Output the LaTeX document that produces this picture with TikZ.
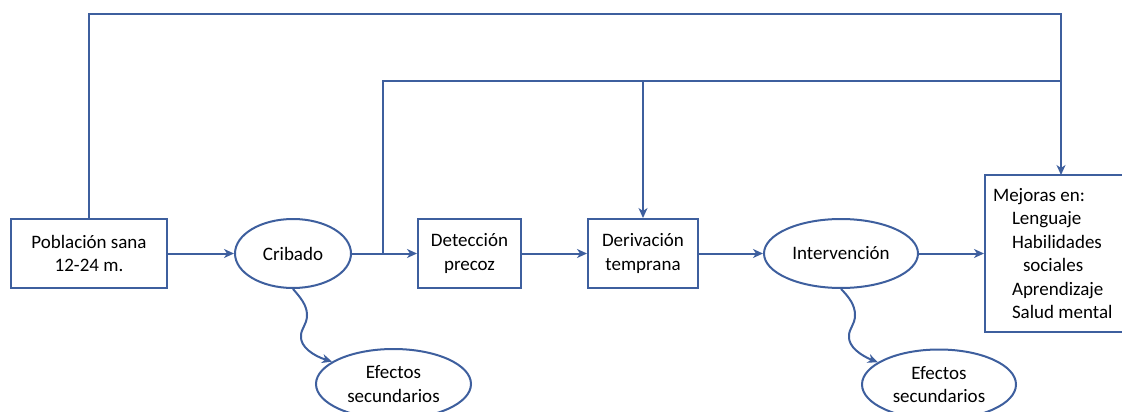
\documentclass[tikz,border=0pt]{standalone}
\usepackage{fontspec}
\setmainfont{Carlito}
\usetikzlibrary{arrows.meta,shapes.geometric}
\definecolor{linecol}{RGB}{62,95,158}
\begin{document}
\begin{tikzpicture}[x=1pt,y=-1pt,
  every node/.style={font=\fontsize{19}{23.4}\selectfont, text=black},
  box/.style={draw=linecol, line width=2pt, rectangle, inner sep=0pt, align=center, minimum height=69pt},
  oval/.style={draw=linecol, line width=2pt, ellipse, inner sep=0pt, align=center},
  conn/.style={draw=linecol, line width=2pt},
  arr/.style={conn, -{Stealth[length=10pt,width=9pt,inset=3pt]}}
]
\path[use as bounding box] (0,0) rectangle (1122,412);

\node[box, minimum width=156pt] (pob) at (89,253.5) {Población sana\\12-24 m.};
\node[oval, minimum width=116pt, minimum height=69pt] (cri) at (293,253.5) {Cribado};
\node[box, minimum width=103pt] (det) at (469.5,253.5) {Detección\\precoz};
\node[box, minimum width=110pt] (der) at (643,253.5) {Derivación\\temprana};
\node[oval, minimum width=154pt, minimum height=69pt] (int) at (841,253.5) {Intervención};
\node[box, align=flush left, text width=123pt, inner xsep=8pt, minimum height=157pt] (mej) at (1054.5,253.5)
  {Mejoras en:\\\hspace*{19pt}Lenguaje\\\hspace*{19pt}Habilidades\\\hspace*{30pt}sociales\\\hspace*{19pt}Aprendizaje\\\hspace*{19pt}Salud mental};
\node[oval, minimum width=155pt, minimum height=70pt] (ef1) at (393.5,384) {Efectos\\secundarios};
\node[oval, minimum width=154pt, minimum height=70pt] (ef2) at (939,384.5) {Efectos\\secundarios};

\coordinate (j1) at (383,253.5);
\coordinate (t1) at (89,14);
\coordinate (t2) at (1061,14);
\coordinate (m1) at (383,80.7);
\coordinate (m2) at (643,80.7);
\coordinate (m3) at (1061,80.7);
\coordinate (mtop) at (1061,175);

\draw[arr] (pob.east) -- (cri.west);
\draw[arr] (cri.east) -- (det.west);
\draw[arr] (det.east) -- (der.west);
\draw[arr] (der.east) -- (int.west);
\draw[arr] (int.east) -- (int.east -| mej.west);

\draw[arr] (pob.north) -- (t1) -- (t2) -- (mtop);
\draw[conn] (j1) -- (m1) -- (m3);
\draw[arr] (m2) -- (der.north);

\draw[arr] (cri.south) .. controls (300,297) and (307,305) .. (307,315)
  .. controls (307,325) and (301,328) .. (301,336)
  .. controls (300,347) and (314,356) .. (ef1.160);
\draw[arr] (int.south) .. controls (849,297) and (855,305) .. (855,315)
  .. controls (855,325) and (849,328) .. (849,336)
  .. controls (848,347) and (862,356) .. (ef2.160);
\end{tikzpicture}
\end{document}
